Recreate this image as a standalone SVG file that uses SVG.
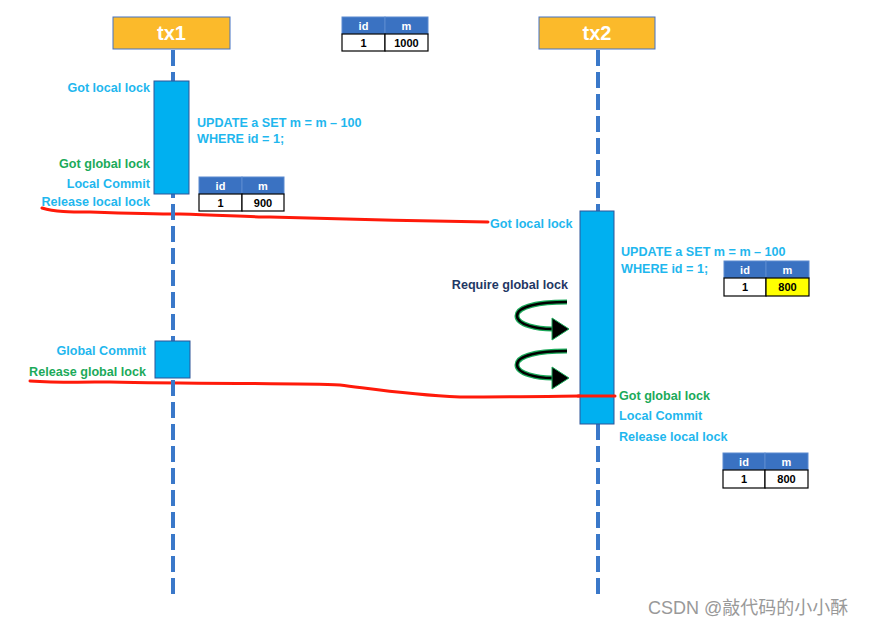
<svg xmlns="http://www.w3.org/2000/svg" width="875" height="627" viewBox="0 0 875 627">
<style>
.hdr{fill:#FBBA2B;stroke:#4472C4;stroke-width:1}
.hdrt{font-family:"Liberation Sans",Arial,sans-serif;font-weight:bold;font-size:20px;fill:#fff;text-anchor:middle}
.life{stroke:#3A78C9;stroke-width:4;stroke-dasharray:16 6;fill:none}
.act{fill:#00B0F0;stroke:#2F5597;stroke-width:1}
.t{font-family:"Liberation Sans",Arial,sans-serif;font-weight:bold;font-size:12.6px}
.b{fill:#1FB7EE}
.g{fill:#1BAA5A}
.n{fill:#1F3864}
.end{text-anchor:end}
.th{fill:#3A72C2;stroke:#5B8AD0;stroke-width:1}
.td{fill:#fff;stroke:#000;stroke-width:1.2}
.tht{font-family:"Liberation Sans",Arial,sans-serif;font-weight:bold;font-size:11px;fill:#fff;text-anchor:middle}
.tdt{font-family:"Liberation Sans",Arial,sans-serif;font-weight:bold;font-size:11px;fill:#000;text-anchor:middle}
.red{stroke:#FF1A0A;stroke-width:3;fill:none;stroke-linecap:round}
.arc{fill:none;stroke:#1BAA5A;stroke-width:5}
.arc2{fill:none;stroke:#000;stroke-width:2.6}
</style>
<defs>
<g id="arrow">
<path class="arc" d="M567,0 C540,0 517,4 517,14 C517,23 538,27 552,27"/>
<path class="arc2" d="M567,0 C540,0 517,4 517,14 C517,23 538,27 552,27"/>
<polygon points="552,16 569,27 552,38" fill="#000" stroke="#1BAA5A" stroke-width="1"/>
</g>
</defs>
<rect width="875" height="627" fill="#fff"/>
<g id="connectors">
<path class="red" d="M42,208 C55,212 70,212 90,212 C120,213 150,214 180,214 C220,215 250,217 270,217 C330,219 420,221 488,222"/>
<path class="red" d="M30,381 C60,383 90,382 110,382 C200,384 300,383 340,385 C380,390 410,395 460,397 C520,397 570,396 580,396"/>
<line class="life" x1="173" y1="50" x2="173" y2="596"/>
<line class="life" x1="598" y1="50" x2="598" y2="596"/>
</g>
<g id="tx1">
<rect class="hdr" x="113" y="17" width="117" height="32"/>
<text class="hdrt" x="171.5" y="40">tx1</text>
</g>
<g id="tx2">
<rect class="hdr" x="539" y="17" width="116" height="32"/>
<text class="hdrt" x="597" y="40">tx2</text>
</g>
<g id="table-initial">
<rect class="th" x="342" y="17" width="43" height="17"/>
<rect class="th" x="385" y="17" width="43" height="17"/>
<rect class="td" x="342" y="34" width="43" height="17"/>
<rect class="td" x="385" y="34" width="43" height="17"/>
<text class="tht" x="363.5" y="29.5">id</text>
<text class="tht" x="406.5" y="29.5">m</text>
<text class="tdt" x="363.5" y="46.5">1</text>
<text class="tdt" x="406.5" y="46.5">1000</text>
</g>
<g id="tx1-activation">
<rect class="act" x="154" y="81" width="35" height="113"/>
<text class="t b end" x="150" y="92">Got local lock</text>
<text class="t g end" x="150" y="168">Got global lock</text>
<text class="t b end" x="150" y="188">Local Commit</text>
<text class="t b end" x="150" y="206">Release local lock</text>
<text class="t b" x="197" y="127">UPDATE a SET m = m – 100</text>
<text class="t b" x="197" y="143">WHERE id = 1;</text>
</g>
<g id="table-900">
<rect class="th" x="199" y="177" width="43" height="17"/>
<rect class="th" x="242" y="177" width="42" height="17"/>
<rect class="td" x="199" y="194" width="43" height="17"/>
<rect class="td" x="242" y="194" width="42" height="17"/>
<text class="tht" x="220.5" y="189.5">id</text>
<text class="tht" x="263" y="189.5">m</text>
<text class="tdt" x="220.5" y="206.5">1</text>
<text class="tdt" x="263" y="206.5">900</text>
</g>
<g id="tx2-activation">
<rect class="act" x="580" y="211" width="34" height="213"/>
<path class="red" d="M578,396 L615,396"/>
<text class="t b" x="490" y="228">Got local lock</text>
<text class="t b" x="621" y="256">UPDATE a SET m = m – 100</text>
<text class="t b" x="621" y="273">WHERE id = 1;</text>
<text class="t n end" x="568" y="289">Require global lock</text>
<text class="t g" x="619" y="400">Got global lock</text>
<text class="t b" x="619" y="420">Local Commit</text>
<text class="t b" x="619" y="441">Release local lock</text>
</g>
<g id="wait-arrows">
<use href="#arrow" transform="translate(0,302)"/>
<use href="#arrow" transform="translate(0,351)"/>
</g>
<g id="table-800-yellow">
<rect class="th" x="724" y="261" width="42" height="17"/>
<rect class="th" x="766" y="261" width="43" height="17"/>
<rect class="td" x="724" y="278" width="42" height="18"/>
<rect x="766" y="278" width="43" height="18" fill="#FFFF00" stroke="#000" stroke-width="1.2"/>
<text class="tht" x="745" y="273.5">id</text>
<text class="tht" x="787.5" y="273.5">m</text>
<text class="tdt" x="745" y="291">1</text>
<text class="tdt" x="787.5" y="291">800</text>
</g>
<g id="global-commit">
<rect class="act" x="155" y="341" width="35" height="37"/>
<text class="t b end" x="146" y="355">Global Commit</text>
<text class="t g end" x="146" y="376">Release global lock</text>
</g>
<g id="table-800">
<rect class="th" x="723" y="453" width="42" height="17"/>
<rect class="th" x="765" y="453" width="43" height="17"/>
<rect class="td" x="723" y="470" width="42" height="18"/>
<rect class="td" x="765" y="470" width="43" height="18"/>
<text class="tht" x="744" y="465.5">id</text>
<text class="tht" x="786.5" y="465.5">m</text>
<text class="tdt" x="744" y="483">1</text>
<text class="tdt" x="786.5" y="483">800</text>
</g>
<text x="648" y="614" font-family="'Liberation Sans','Noto Sans CJK SC',sans-serif" font-size="18" fill="#999">CSDN @敲代码的小小酥</text>
</svg>
